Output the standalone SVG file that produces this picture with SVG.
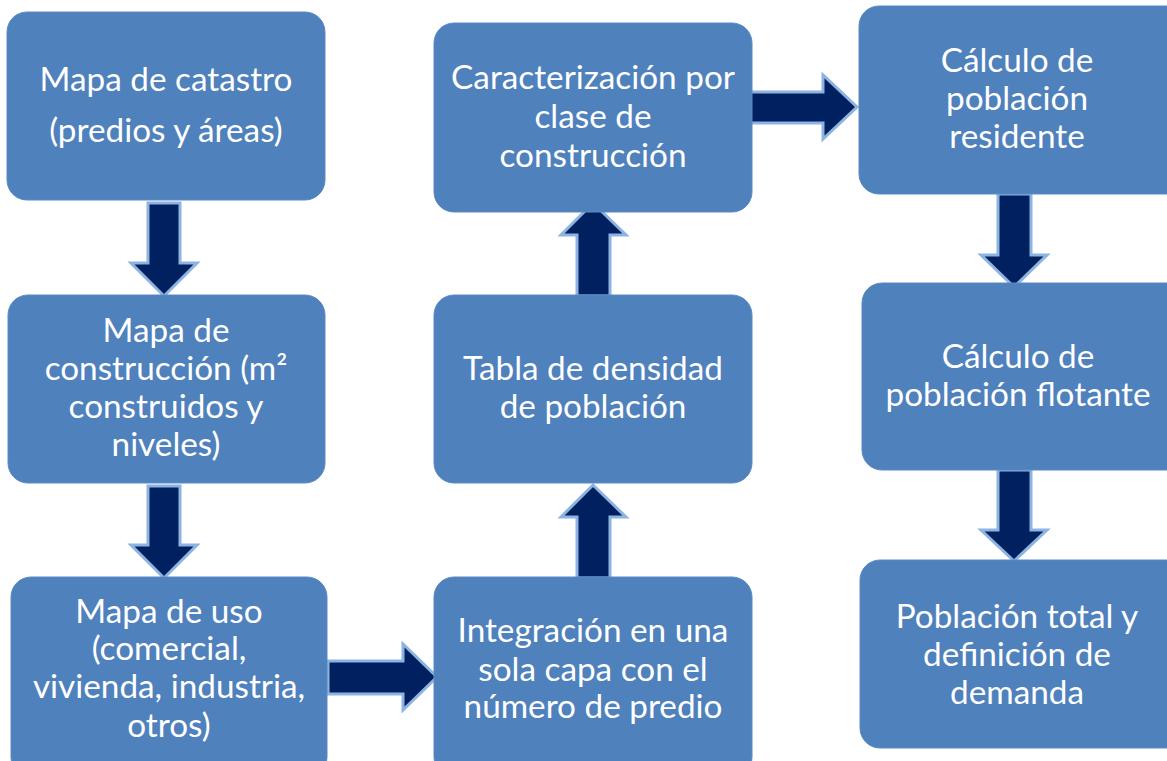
<svg xmlns="http://www.w3.org/2000/svg" width="1167" height="761" viewBox="0 0 1167 761">
<style>
.box{fill:#4F81BD;stroke:#5B8AC4;stroke-width:1}
.t{font-family:Lato,"Open Sans","Liberation Sans",sans-serif;font-size:33.3px;fill:#FFFFFF;text-anchor:middle}
.arr{fill:#002060;stroke:#8DB3E2;stroke-width:3;stroke-linejoin:miter}
</style>
<rect width="1167" height="761" fill="#FFFFFF"/>
<g id="connectors">
<polygon class="arr" points="148,203 180,203 180,263 197,263 164,296 131,263 148,263"/>
<polygon class="arr" points="148,486 180,486 180,545 197,545 164,578 131,545 148,545"/>
<polygon class="arr" points="328,661 403,661 403,644 437,677 403,710 403,694 328,694"/>
<polygon class="arr" points="577,578 610,578 610,517 626,517 593,485 561,517 577,517"/>
<polygon class="arr" points="577,296 610,296 610,235 626,235 593,203 561,235 577,235"/>
<polygon class="arr" points="748,92 823,92 823,75 857,107 823,139 823,123 748,123"/>
<polygon class="arr" points="998,194 1031,194 1031,255 1047,255 1014,287 981,255 998,255"/>
<polygon class="arr" points="998,470 1031,470 1031,530 1047,530 1014,561 981,530 998,530"/>
</g>
<g id="n1"><rect class="box" x="7" y="12" width="318" height="188" rx="20"/>
<text class="t" x="166" y="91">Mapa de catastro</text>
<text class="t" x="166" y="142">(predios y áreas)</text></g>
<g id="n2"><rect class="box" x="8" y="295" width="317" height="188" rx="20"/>
<text class="t" x="166" y="342">Mapa de</text>
<text class="t" x="166" y="380">construcción (m²</text>
<text class="t" x="166" y="418">construidos y</text>
<text class="t" x="166" y="456">niveles)</text></g>
<g id="n3"><rect class="box" x="11" y="577" width="316" height="200" rx="20"/>
<text class="t" x="169" y="623">Mapa de uso</text>
<text class="t" x="169" y="660">(comercial,</text>
<text class="t" x="169" y="698">vivienda, industria,</text>
<text class="t" x="169" y="737">otros)</text></g>
<g id="n4"><rect class="box" x="434" y="23" width="318" height="189" rx="20"/>
<text class="t" x="593" y="89">Caracterización por</text>
<text class="t" x="593" y="128">clase de</text>
<text class="t" x="593" y="167">construcción</text></g>
<g id="n5"><rect class="box" x="434" y="295" width="318" height="188" rx="20"/>
<text class="t" x="593" y="380">Tabla de densidad</text>
<text class="t" x="593" y="418">de población</text></g>
<g id="n6"><rect class="box" x="434" y="577" width="318" height="200" rx="20"/>
<text class="t" x="593" y="642">Integración en una</text>
<text class="t" x="593" y="681">sola capa con el</text>
<text class="t" x="593" y="718">número de predio</text></g>
<g id="n7"><rect class="box" x="859" y="6" width="330" height="188" rx="20"/>
<text class="t" x="1017" y="72">Cálculo de</text>
<text class="t" x="1017" y="110">población</text>
<text class="t" x="1017" y="148">residente</text></g>
<g id="n8"><rect class="box" x="862" y="283" width="330" height="187" rx="20"/>
<text class="t" x="1018" y="368">Cálculo de</text>
<text class="t" x="1018" y="406">población flotante</text></g>
<g id="n9"><rect class="box" x="860" y="560" width="330" height="188" rx="20"/>
<text class="t" x="1017" y="628">Población total y</text>
<text class="t" x="1017" y="666">definición de</text>
<text class="t" x="1017" y="704">demanda</text></g>
</svg>
